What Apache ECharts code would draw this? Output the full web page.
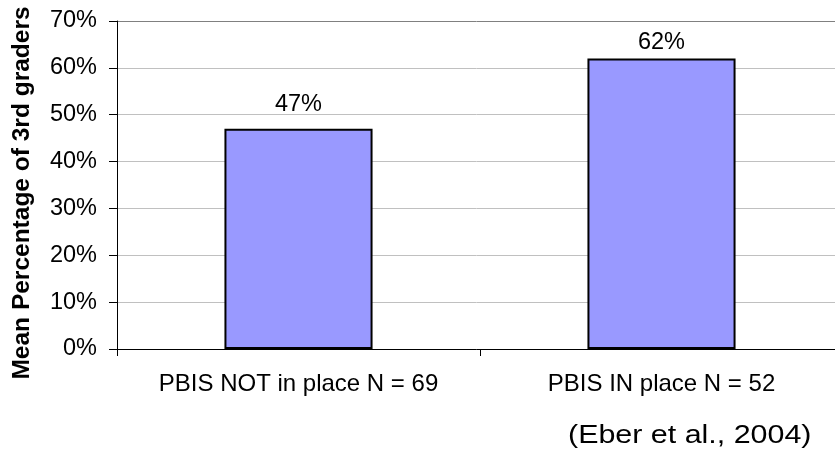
<!DOCTYPE html>
<html>
<head>
<meta charset="utf-8">
<script src="https://cdn.jsdelivr.net/npm/echarts@6/dist/echarts.min.js"></script>
<style>
  html, body { margin: 0; padding: 0; background: #ffffff; }
  #chart { width: 835px; height: 456px; }
</style>
</head>
<body>
<div id="chart"></div>
<script>
// Categories and mean percentages (third graders)
const categories = ['PBIS NOT in place N = 69', 'PBIS IN place N = 52'];
const meanPercent = [47, 62];
const yTicks = { min: 0, max: 70, interval: 10 };
const sourceNote = '(Eber et al., 2004)';
const yTitle = 'Mean Percentage of 3rd graders';

const FONT = '"Liberation Sans", Arial, sans-serif';
// label offsets above each bar
const labelDistance = [12, 4];

const chart = echarts.init(document.getElementById('chart'), null, { renderer: 'canvas' });

// grid lines: light grey, top border line darker
const splitColors = [];
for (let v = yTicks.min; v <= yTicks.max; v += yTicks.interval) {
  splitColors.push(v === yTicks.max ? '#808080' : '#c0c0c0');
}

chart.setOption({
  animation: false,
  backgroundColor: '#ffffff',
  grid: {
    left: 117, top: 21, width: 726, height: 328,
    containLabel: false, outerBoundsMode: 'none'
  },
  xAxis: {
    type: 'category',
    data: categories,
    axisLine: { show: true, lineStyle: { color: '#000000', width: 1 } },
    axisTick: { show: true, length: 7, alignWithLabel: false, lineStyle: { color: '#000000' } },
    axisLabel: {
      color: '#000000', fontFamily: FONT, fontSize: 24, margin: 23,
      interval: 0, hideOverlap: false
    },
    splitLine: { show: false }
  },
  yAxis: {
    type: 'value',
    min: yTicks.min,
    max: yTicks.max,
    interval: yTicks.interval,
    axisLine: { show: true, lineStyle: { color: '#000000', width: 1 } },
    axisTick: { show: true, length: 8, lineStyle: { color: '#000000' } },
    axisLabel: {
      color: '#000000', fontFamily: FONT, fontSize: 23.5, margin: 20,
      formatter: v => v + '%'
    },
    splitLine: { show: true, lineStyle: { color: splitColors, width: 1 } }
  },
  series: [{
    type: 'bar',
    barWidth: '40.8%',
    data: meanPercent.map((v, i) => ({
      value: v,
      label: { distance: labelDistance[i] }
    })),
    itemStyle: { color: '#9999ff', borderColor: '#000000', borderWidth: 2 },
    label: {
      show: true,
      position: 'top',
      color: '#000000',
      fontFamily: FONT,
      fontSize: 23.5,
      formatter: p => Math.round(p.value) + '%'
    }
  }],
  graphic: [
    {
      type: 'text',
      x: 22, y: 193,
      rotation: Math.PI / 2,
      style: {
        text: yTitle,
        fontFamily: FONT, fontSize: 24.5, fontWeight: 'bold',
        fill: '#000000', align: 'center', verticalAlign: 'middle'
      }
    },
    {
      type: 'text',
      x: 568, y: 436,
      scaleX: 1.17,
      style: {
        text: sourceNote,
        fontFamily: FONT, fontSize: 26,
        fill: '#000000', align: 'left', verticalAlign: 'middle'
      }
    }
  ]
});
</script>
</body>
</html>
